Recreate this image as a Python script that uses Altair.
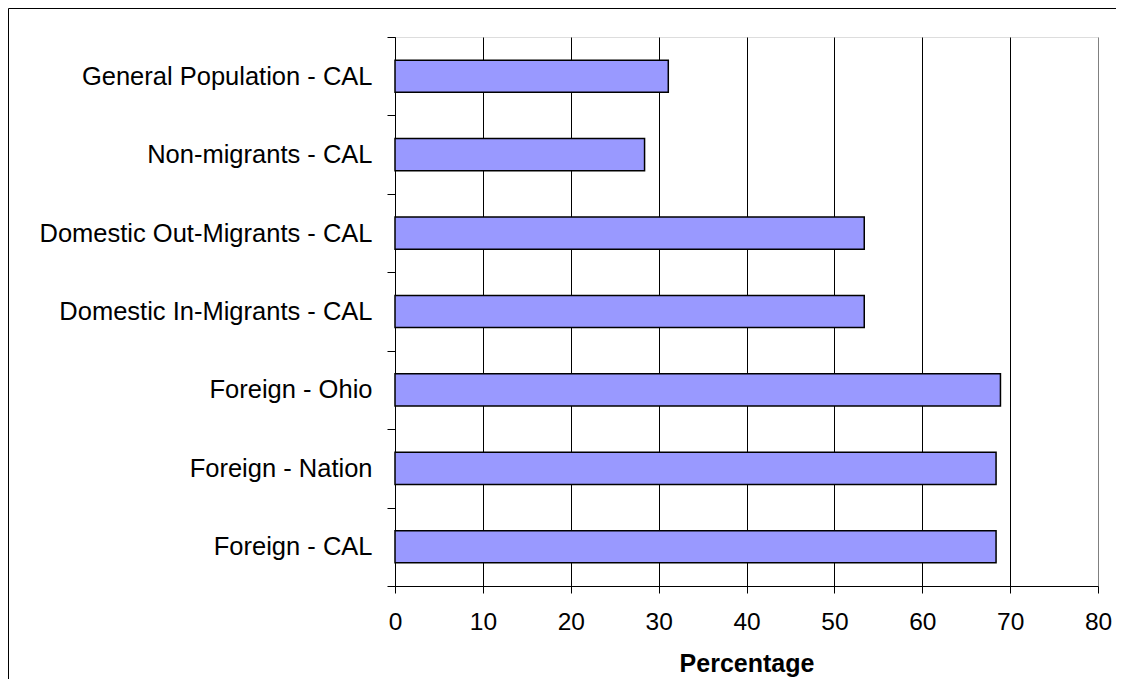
import altair as alt
import pandas as pd

categories = [
    "General Population - CAL",
    "Non-migrants - CAL",
    "Domestic Out-Migrants - CAL",
    "Domestic In-Migrants - CAL",
    "Foreign - Ohio",
    "Foreign - Nation",
    "Foreign - CAL",
]
values = [31.1, 28.4, 53.4, 53.4, 68.9, 68.4, 68.4]
x_ticks = [0, 10, 20, 30, 40, 50, 60, 70, 80]

df = pd.DataFrame({"group": categories, "pct": values})
frame_df = pd.DataFrame({"k": [0]})

FONT = "Liberation Sans"

bars = alt.Chart(df).mark_bar(
    color="#9999FF", stroke="black", strokeWidth=1.5,
    height=alt.RelativeBandSize(0.41),
).encode(
    x=alt.X(
        "pct:Q",
        scale=alt.Scale(domain=[0, 80], nice=False, zero=True),
        axis=alt.Axis(
            values=x_ticks,
            title="Percentage",
            titleFont=FONT,
            titleFontSize=25,
            titleFontWeight="bold",
            titleColor="black",
            titlePadding=18,
            labelFont=FONT,
            labelFontSize=24.5,
            labelColor="black",
            labelPadding=17,
            tickSize=7,
            tickColor="black",
            domainColor="black",
            grid=True,
            gridColor={"condition": {"test": "datum.value === 80", "value": "#808080"}, "value": "black"},
            gridOpacity=1,
            labelFlush=False,
        ),
    ),
    y=alt.Y(
        "group:N",
        sort=categories,
        scale=alt.Scale(paddingInner=0, paddingOuter=0),
        axis=alt.Axis(
            title=None,
            labelFont=FONT,
            labelFontSize=25.5,
            labelColor="black",
            labelPadding=15,
            labelLimit=0,
            tickSize=8,
            tickColor="black",
            domainColor="black",
            tickBand="extent",
            grid=False,
        ),
    ),
)

frame = alt.Chart(frame_df).mark_rect(
    filled=False, stroke="black", strokeWidth=1, clip=False
).encode(
    x=alt.value(-386.5),
    x2=alt.value(900),
    y=alt.value(-28.5),
    y2=alt.value(800),
)

chart = alt.layer(frame, bars).properties(
    width=703,
    height=549,
    autosize=alt.AutoSizeParams(type="none"),
    padding={"left": 387, "top": 29, "right": 18, "bottom": 93},
).configure_view(
    stroke="#808080", strokeWidth=1.5
).configure(background="white")

chart.save("out.html", embed_options={"renderer": "svg", "actions": False})
